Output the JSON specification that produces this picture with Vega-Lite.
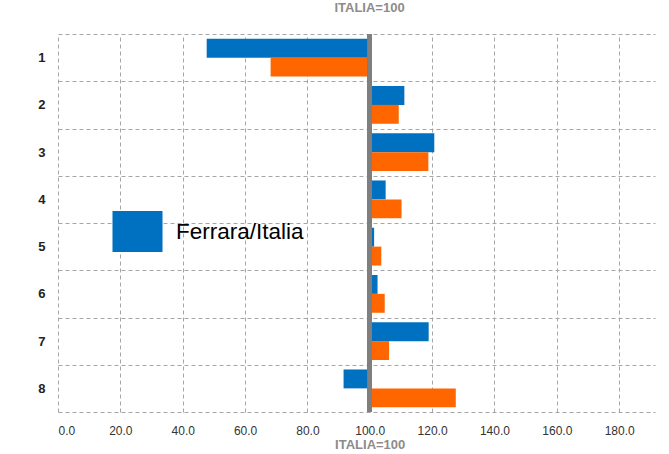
{
  "$schema": "https://vega.github.io/schema/vega-lite/v6.json",
  "autosize": {"type": "none"},
  "width": 597,
  "height": 378,
  "padding": {"left": 58, "top": 34, "right": 14, "bottom": 42},
  "background": "white",
  "title": {
    "text": "ITALIA=100",
    "font": "Liberation Sans",
    "fontSize": 13,
    "fontWeight": "bold",
    "color": "#8c8c8c",
    "offset": 13,
    "dx": 13
  },
  "data": {
    "values": [
      {"cat": "1", "serie": "Ferrara/Italia", "v": 47.7},
      {"cat": "1", "serie": "Emilia-Romagna/Italia", "v": 68.2},
      {"cat": "2", "serie": "Ferrara/Italia", "v": 111.1},
      {"cat": "2", "serie": "Emilia-Romagna/Italia", "v": 109.3},
      {"cat": "3", "serie": "Ferrara/Italia", "v": 120.7},
      {"cat": "3", "serie": "Emilia-Romagna/Italia", "v": 118.8},
      {"cat": "4", "serie": "Ferrara/Italia", "v": 105.1},
      {"cat": "4", "serie": "Emilia-Romagna/Italia", "v": 110.2},
      {"cat": "5", "serie": "Ferrara/Italia", "v": 101.4},
      {"cat": "5", "serie": "Emilia-Romagna/Italia", "v": 103.7},
      {"cat": "6", "serie": "Ferrara/Italia", "v": 102.5},
      {"cat": "6", "serie": "Emilia-Romagna/Italia", "v": 104.8},
      {"cat": "7", "serie": "Ferrara/Italia", "v": 118.9},
      {"cat": "7", "serie": "Emilia-Romagna/Italia", "v": 106.2},
      {"cat": "8", "serie": "Ferrara/Italia", "v": 91.6},
      {"cat": "8", "serie": "Emilia-Romagna/Italia", "v": 127.6}
    ]
  },
  "config": {
    "view": {"stroke": null},
    "axis": {"labelFont": "Liberation Sans", "titleFont": "Liberation Sans"}
  },
  "layer": [
    {
      "mark": {"type": "bar"},
      "encoding": {
        "y": {
          "field": "cat",
          "type": "nominal",
          "scale": {"paddingInner": 0, "paddingOuter": 0},
          "axis": {
            "title": null,
            "ticks": false,
            "domain": false,
            "labelPadding": 13,
            "labelFontSize": 13,
            "labelFontWeight": "bold",
            "labelColor": "#222222",
            "grid": true,
            "tickBand": "extent",
            "gridDash": [4, 3],
            "gridColor": "#a6a6a6",
            "gridWidth": 1
          }
        },
        "yOffset": {
          "field": "serie",
          "type": "nominal",
          "sort": ["Ferrara/Italia", "Emilia-Romagna/Italia"],
          "scale": {"paddingInner": 0, "paddingOuter": 0.25}
        },
        "x": {
          "field": "v",
          "type": "quantitative",
          "scale": {"domain": [0, 191.5], "nice": false},
          "axis": {
            "values": [0, 20, 40, 60, 80, 100, 120, 140, 160, 180],
            "format": ".1f",
            "ticks": false,
            "domain": false,
            "labelPadding": 13,
            "labelFontSize": 12,
            "labelColor": "#333333",
            "grid": true,
            "gridDash": [4, 3],
            "gridColor": "#a6a6a6",
            "gridWidth": 1,
            "title": "ITALIA=100",
            "titleX": 311.7,
            "titleAlign": "center",
            "titleFontSize": 13,
            "titleFontWeight": "bold",
            "titleColor": "#8c8c8c",
            "titlePadding": 2
          }
        },
        "x2": {"datum": 100},
        "color": {
          "field": "serie",
          "type": "nominal",
          "scale": {"domain": ["Ferrara/Italia", "Emilia-Romagna/Italia"], "range": ["#0070c0", "#ff6600"]},
          "legend": {
            "values": ["Ferrara/Italia"],
            "title": null,
            "orient": "none",
            "legendX": 59,
            "legendY": 177,
            "symbolType": "M-1.22,-1H1.22V1H-1.22Z",
            "symbolSize": 1681,
            "symbolStrokeWidth": 0,
            "labelFont": "Liberation Sans",
            "labelFontSize": 22.5,
            "labelColor": "#000000",
            "labelOffset": 18,
            "labelLimit": 300,
            "padding": 0
          }
        }
      }
    },
    {
      "mark": {"type": "rule", "color": "#7f7f7f", "strokeWidth": 4},
      "encoding": {"x": {"datum": 100}}
    }
  ]
}
